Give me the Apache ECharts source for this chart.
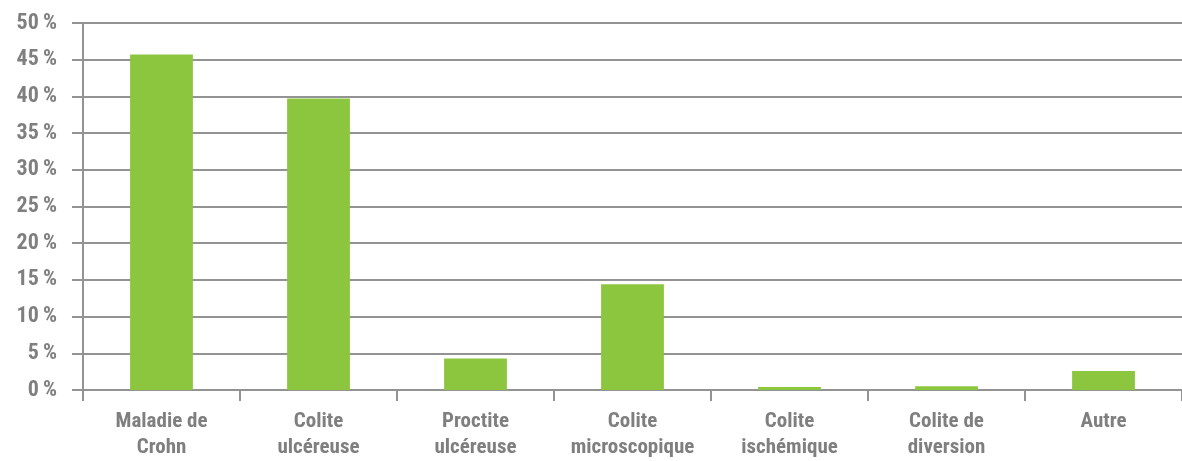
<!DOCTYPE html>
<html>
<head>
<meta charset="utf-8">
<script src="https://cdn.jsdelivr.net/npm/echarts@6/dist/echarts.min.js"></script>
<style>
  html, body { margin: 0; padding: 0; background: #ffffff; }
  #chart { width: 1182px; height: 461px; }
</style>
</head>
<body>
<div id="chart"></div>
<script>
// Catégories (libellés sur deux lignes) et pourcentages
const categories = [
  'Maladie de\nCrohn',
  'Colite\nulcéreuse',
  'Proctite\nulcéreuse',
  'Colite\nmicroscopique',
  'Colite\nischémique',
  'Colite de\ndiversion',
  'Autre'
];
const percentages = [45.7, 39.7, 4.3, 14.4, 0.4, 0.5, 2.6];
const yTicks = { min: 0, max: 50, step: 5 };

const FONT = '"Roboto Condensed", "Roboto", "Liberation Sans", sans-serif';
const GREY = '#7f7f7f';
const LINE = '#939393';

const chart = echarts.init(document.getElementById('chart'), null, { renderer: 'canvas' });
chart.setOption({
  animation: false,
  grid: { left: 83, top: 23, bottom: 70, width: 1102.5, containLabel: false },
  xAxis: {
    type: 'category',
    data: categories,
    axisLine: { show: true, lineStyle: { color: LINE, width: 2 } },
    axisTick: { show: true, length: 11, lineStyle: { color: LINE, width: 2 } },
    axisLabel: {
      interval: 0,
      margin: 19,
      color: GREY,
      fontFamily: FONT,
      fontWeight: 'bold',
      fontSize: 21,
      lineHeight: 26
    }
  },
  yAxis: {
    type: 'value',
    min: yTicks.min,
    max: yTicks.max,
    interval: yTicks.step,
    axisLine: { show: true, lineStyle: { color: LINE, width: 2 } },
    axisTick: { show: true, length: 11, lineStyle: { color: LINE, width: 2 } },
    splitLine: { show: true, lineStyle: { color: LINE, width: 2 } },
    axisLabel: {
      margin: 26,
      color: GREY,
      fontFamily: FONT,
      fontWeight: 'bold',
      fontSize: 22,
      formatter: '{value}\u2009%'
    }
  },
  series: [{
    type: 'bar',
    data: percentages,
    barWidth: '40%',
    itemStyle: { color: '#8cc63f' }
  }]
});
</script>
</body>
</html>
